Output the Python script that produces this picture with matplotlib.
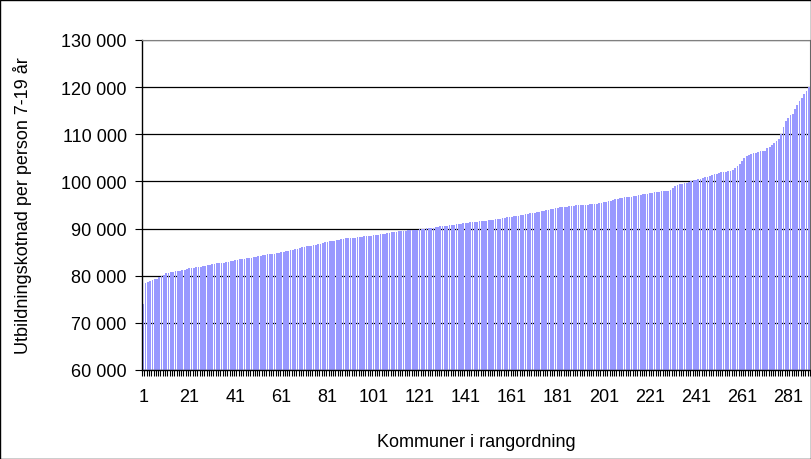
import matplotlib
matplotlib.use('Agg')
import matplotlib.pyplot as plt
from matplotlib.patches import Rectangle
from matplotlib.ticker import FuncFormatter

plt.rcParams['font.family'] = ['Liberation Sans', 'DejaVu Sans']

# Utbildningskostnad per kommun, sorterad (290 kommuner)
kostnad = [
    73900, 78500, 78600, 78800, 79000, 79300, 79400, 79800, 80000, 80200,
    80500, 80600, 80700, 80800, 80900, 81000, 81100, 81200, 81300, 81400,
    81600, 81600, 81700, 81800, 81800, 81900, 82000, 82100, 82200, 82300,
    82400, 82500, 82600, 82700, 82700, 82800, 82900, 83000, 83100, 83200,
    83300, 83400, 83500, 83600, 83600, 83700, 83800, 83800, 83900, 84000,
    84100, 84200, 84300, 84400, 84500, 84500, 84600, 84700, 84800, 84900,
    85000, 85100, 85200, 85300, 85400, 85500, 85600, 85700, 85800, 86000,
    86100, 86200, 86300, 86400, 86500, 86600, 86700, 86800, 87000, 87100,
    87200, 87300, 87400, 87400, 87500, 87600, 87700, 87800, 87900, 87900,
    88000, 88000, 88100, 88200, 88200, 88300, 88400, 88400, 88500, 88500,
    88600, 88600, 88700, 88800, 88800, 88900, 89000, 89100, 89200, 89200,
    89300, 89400, 89400, 89500, 89500, 89600, 89700, 89700, 89800, 89800,
    89900, 90000, 90000, 90100, 90100, 90200, 90200, 90300, 90400, 90500,
    90500, 90600, 90600, 90700, 90700, 90800, 90900, 91000, 91000, 91100,
    91100, 91200, 91300, 91300, 91400, 91400, 91500, 91600, 91700, 91700,
    91800, 91900, 91900, 92000, 92000, 92100, 92200, 92300, 92400, 92500,
    92500, 92600, 92700, 92700, 92800, 92900, 93000, 93100, 93200, 93300,
    93400, 93500, 93600, 93700, 93800, 93900, 94000, 94100, 94200, 94300,
    94400, 94500, 94500, 94600, 94600, 94700, 94700, 94800, 94900, 94900,
    95000, 95000, 95100, 95100, 95200, 95200, 95300, 95300, 95400, 95500,
    95600, 95700, 95800, 95900, 96000, 96200, 96300, 96400, 96500, 96600,
    96600, 96700, 96800, 96900, 97000, 97100, 97200, 97300, 97300, 97400,
    97500, 97600, 97700, 97700, 97800, 97900, 97900, 98000, 98000, 98100,
    98500, 99000, 99300, 99400, 99500, 99600, 99700, 99800, 100000, 100200,
    100300, 100500, 100600, 100800, 100900, 101000, 101100, 101300, 101500, 101600,
    101700, 101900, 102000, 102100, 102200, 102300, 102500, 102800, 103200, 103600,
    104300, 105000, 105300, 105600, 105800, 106000, 106100, 106300, 106400, 106500,
    106500, 107000, 107300, 107800, 108200, 108600, 109000, 110000, 111500, 112800,
    113500, 114000, 114400, 115300, 116200, 117000, 117800, 118500, 119200, 120100,
]
rang = list(range(1, len(kostnad) + 1))
x_labels = list(range(1, 290, 20))
y_ticks = [60000, 70000, 80000, 90000, 100000, 110000, 120000, 130000]

fig = plt.figure(figsize=(8.12, 4.6), dpi=100)
ax = fig.add_axes([0.1749, 0.1935, 0.8226, 0.7174])

ax.bar(rang, kostnad, width=0.76, color='#9999FF', linewidth=0, zorder=2)

ax.set_xlim(0.5, len(kostnad) + 0.5)
ax.set_ylim(60000, 130000)
ax.set_yticks(y_ticks)
ax.yaxis.set_major_formatter(FuncFormatter(lambda v, p: f'{int(v):,}'.replace(',', ' ')))
ax.set_xticks(x_labels)
ax.set_xticks([i + 0.5 for i in range(len(kostnad) + 1)], minor=True)

ax.grid(axis='y', color='black', linewidth=0.9, zorder=1)
ax.set_axisbelow(True)

ax.tick_params(axis='x', which='major', length=0, pad=13, labelsize=13)
ax.tick_params(axis='x', which='minor', length=4, width=0.8, direction='out')
ax.tick_params(axis='y', which='major', length=5, width=0.8, labelsize=13, pad=6)

for s in ['top', 'right']:
    ax.spines[s].set_color('#808080')
ax.spines['left'].set_linewidth(1.0)
ax.spines['bottom'].set_linewidth(1.0)

ax.set_ylabel('Utbildningskotnad per person 7-19 år', fontsize=13)
ax.yaxis.set_label_coords(-0.165, 0.5)
ax.set_xlabel('Kommuner i rangordning', fontsize=13)
ax.xaxis.set_label_coords(0.5, -0.19)

fig.patches.append(Rectangle((0.0006, 0.001), 0.9982, 0.997, transform=fig.transFigure,
                             fill=False, edgecolor='black', linewidth=1.0))

fig.savefig('out.png', dpi=100)
